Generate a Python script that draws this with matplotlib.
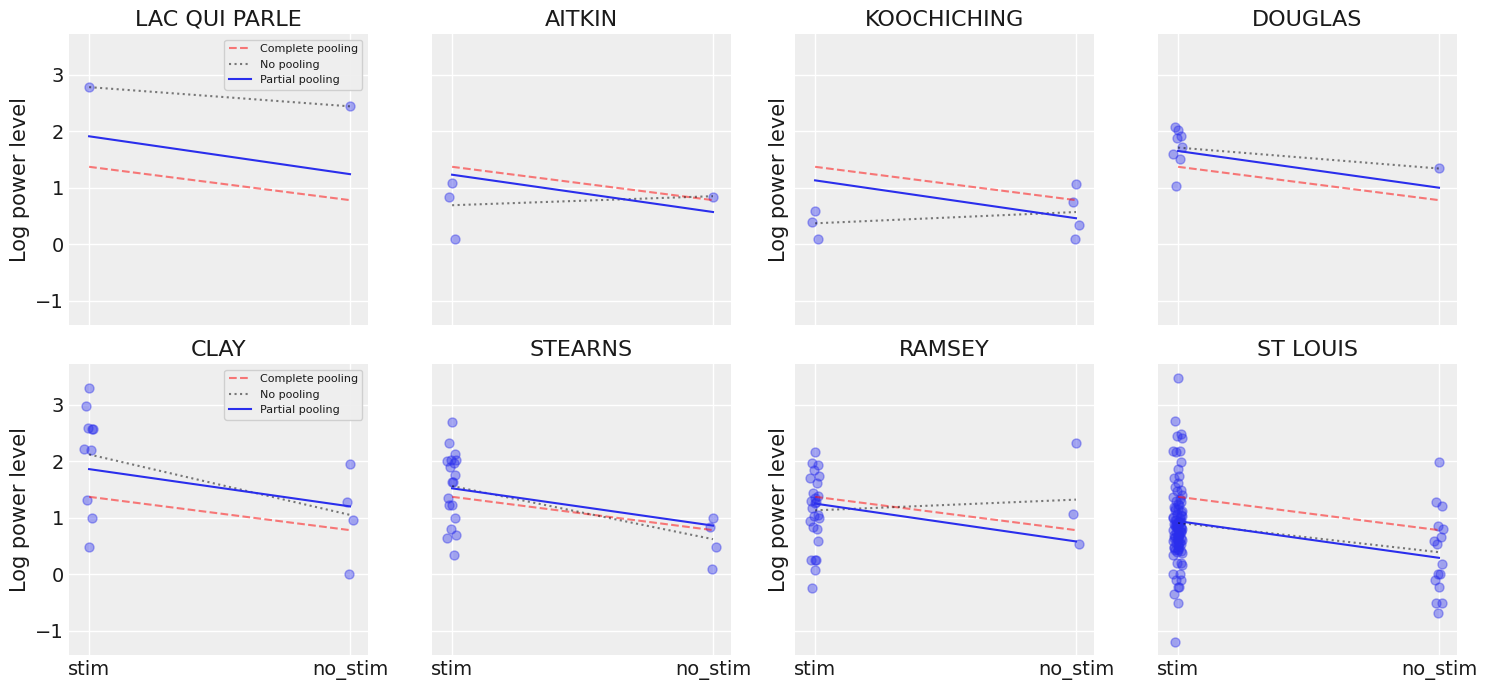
import numpy as np
import matplotlib
matplotlib.use("Agg")
import matplotlib.pyplot as plt

# arviz-darkgrid look, set by hand
plt.rcParams.update({
    "axes.facecolor": "#eeeeee",
    "axes.edgecolor": "#eeeeee",
    "axes.grid": True,
    "grid.color": "white",
    "grid.linewidth": 1.0,
    "axes.axisbelow": True,
    "xtick.major.size": 0,
    "ytick.major.size": 0,
    "xtick.labelsize": 14,
    "ytick.labelsize": 14,
    "axes.labelsize": 15,
    "axes.titlesize": 16,
    "text.color": "#1a1a1a",
    "axes.labelcolor": "#1a1a1a",
    "xtick.color": "#1a1a1a",
    "ytick.color": "#1a1a1a",
})

counties = ["LAC QUI PARLE", "AITKIN", "KOOCHICHING", "DOUGLAS",
            "CLAY", "STEARNS", "RAMSEY", "ST LOUIS"]
tick_labels = ["stim", "no_stim"]

stim_vals = {
    "LAC QUI PARLE": [2.78],
    "AITKIN": [1.09, 0.83, 0.10],
    "KOOCHICHING": [0.58, 0.40, 0.10],
    "DOUGLAS": [2.02, 2.07, 1.92, 1.88, 1.72, 1.59, 1.50, 1.03],
    "CLAY": [3.29, 2.98, 2.57, 2.58, 2.57, 2.21, 2.19, 1.31, 0.99, 0.48],
    "STEARNS": [2.69, 2.32, 2.12, 2.03, 2.03, 2.01, 1.97, 1.89, 1.75, 1.63,
                1.63, 1.34, 1.22, 1.22, 0.99, 0.80, 0.70, 0.64, 0.34],
    "RAMSEY": [2.16, 1.96, 1.93, 1.84, 1.73, 1.70, 1.61, 1.44, 1.39, 1.34,
               1.28, 1.30, 1.26, 1.17, 1.04, 1.03, 1.00, 0.94, 0.80, 0.83,
               0.58, 0.26, 0.26, 0.26, 0.08, -0.24],
    "ST LOUIS": [3.47, 2.71, 2.48, 2.44, 2.41, 2.18, 2.18, 2.16, 1.98, 1.87,
                 1.73, 1.70, 1.62, 1.55, 1.49, 1.48,
                 1.41, 1.36, 1.33, 1.30, 1.28, 1.25, 1.22, 1.19, 1.16, 1.13,
                 1.10, 1.06, 1.03, 1.00, 0.99, 0.96, 0.94, 0.92, 0.90, 0.88,
                 0.87, 0.85, 0.83, 0.82, 0.80, 0.79, 0.77, 0.75, 0.74, 0.72,
                 0.70, 0.69, 0.67, 0.65, 0.64, 0.62, 0.60, 0.59, 0.57, 0.55,
                 0.53, 0.51, 0.49, 0.47, 0.45, 0.43, 0.41, 0.39, 0.37, 0.34,
                 0.92, 0.88, 0.81, 0.78, 0.70, 0.64, 0.58, 0.96, 1.05, 0.85,
                 1.12, 1.02, 0.93, 0.86, 0.76, 0.66, 0.56, 0.48, 0.42, 1.18,
                 0.19, 0.19, 0.17, 0.00, 0.00, -0.10, -0.10, -0.23, -0.23,
                 -0.35, -0.51, -1.20],
}
nostim_vals = {
    "LAC QUI PARLE": [2.44],
    "AITKIN": [0.83],
    "KOOCHICHING": [1.06, 0.74, 0.34, 0.10],
    "DOUGLAS": [1.34],
    "CLAY": [1.95, 1.28, 0.96, 0.00],
    "STEARNS": [0.99, 0.83, 0.48, 0.09],
    "RAMSEY": [2.32, 1.07, 0.53],
    "ST LOUIS": [1.98, 1.28, 1.21, 0.85, 0.80, 0.58, 0.65, 0.54, 0.18, 0.00,
                 0.00, -0.10, -0.23, -0.51, -0.51, -0.69],
}

# model lines: value at stim, value at no_stim
complete_pool = [1.37, 0.78]
no_pool = {
    "LAC QUI PARLE": [2.78, 2.44],
    "AITKIN": [0.69, 0.85],
    "KOOCHICHING": [0.37, 0.57],
    "DOUGLAS": [1.71, 1.34],
    "CLAY": [2.12, 1.05],
    "STEARNS": [1.56, 0.62],
    "RAMSEY": [1.13, 1.32],
    "ST LOUIS": [0.91, 0.39],
}
partial_pool = {
    "LAC QUI PARLE": [1.91, 1.24],
    "AITKIN": [1.23, 0.57],
    "KOOCHICHING": [1.13, 0.46],
    "DOUGLAS": [1.65, 1.00],
    "CLAY": [1.86, 1.20],
    "STEARNS": [1.52, 0.86],
    "RAMSEY": [1.25, 0.58],
    "ST LOUIS": [0.94, 0.29],
}

jitter = np.array([0.0, -0.012, 0.01, -0.004, 0.016, -0.018, 0.006,
                   -0.008, 0.013, -0.002, 0.004, -0.015])


def jit(n):
    return jitter[np.arange(n) % len(jitter)]


fig, axes = plt.subplots(2, 4, figsize=(14.87, 6.9), dpi=100,
                         sharex=True, sharey=True)
fig.subplots_adjust(left=0.0464, right=0.9798, top=0.9507, bottom=0.0507,
                    wspace=0.214, hspace=0.134)
axes = axes.ravel()
xvals = np.array([0, 1])

for i, c in enumerate(counties):
    ax = axes[i]
    ys = np.array(stim_vals[c])
    yn = np.array(nostim_vals[c])
    ax.scatter(0 + jit(len(ys)), ys, s=42, color="#2a2eec", alpha=0.4)
    ax.scatter(1 + jit(len(yn)), yn, s=42, color="#2a2eec", alpha=0.4)
    ax.plot(xvals, complete_pool, "r--", alpha=0.5, label="Complete pooling")
    ax.plot(xvals, no_pool[c], "k:", alpha=0.5, label="No pooling")
    ax.plot(xvals, partial_pool[c], color="#2a2eec", label="Partial pooling")
    ax.set_xticks([0, 1])
    ax.set_xticklabels(tick_labels)
    ax.set_title(c)
    ax.set_xlim(-0.077, 1.069)
    ax.set_ylim(-1.43, 3.72)
    ax.set_yticks([-1, 0, 1, 2, 3])
    for s in ax.spines.values():
        s.set_visible(False)
    if i % 2 == 0:
        ax.set_ylabel("Log power level")
    if i % 4 == 0:
        ax.legend(loc="upper right", fontsize=8, facecolor="#eeeeee",
                  edgecolor="#cccccc", framealpha=0.9)

plt.savefig("out.png")
